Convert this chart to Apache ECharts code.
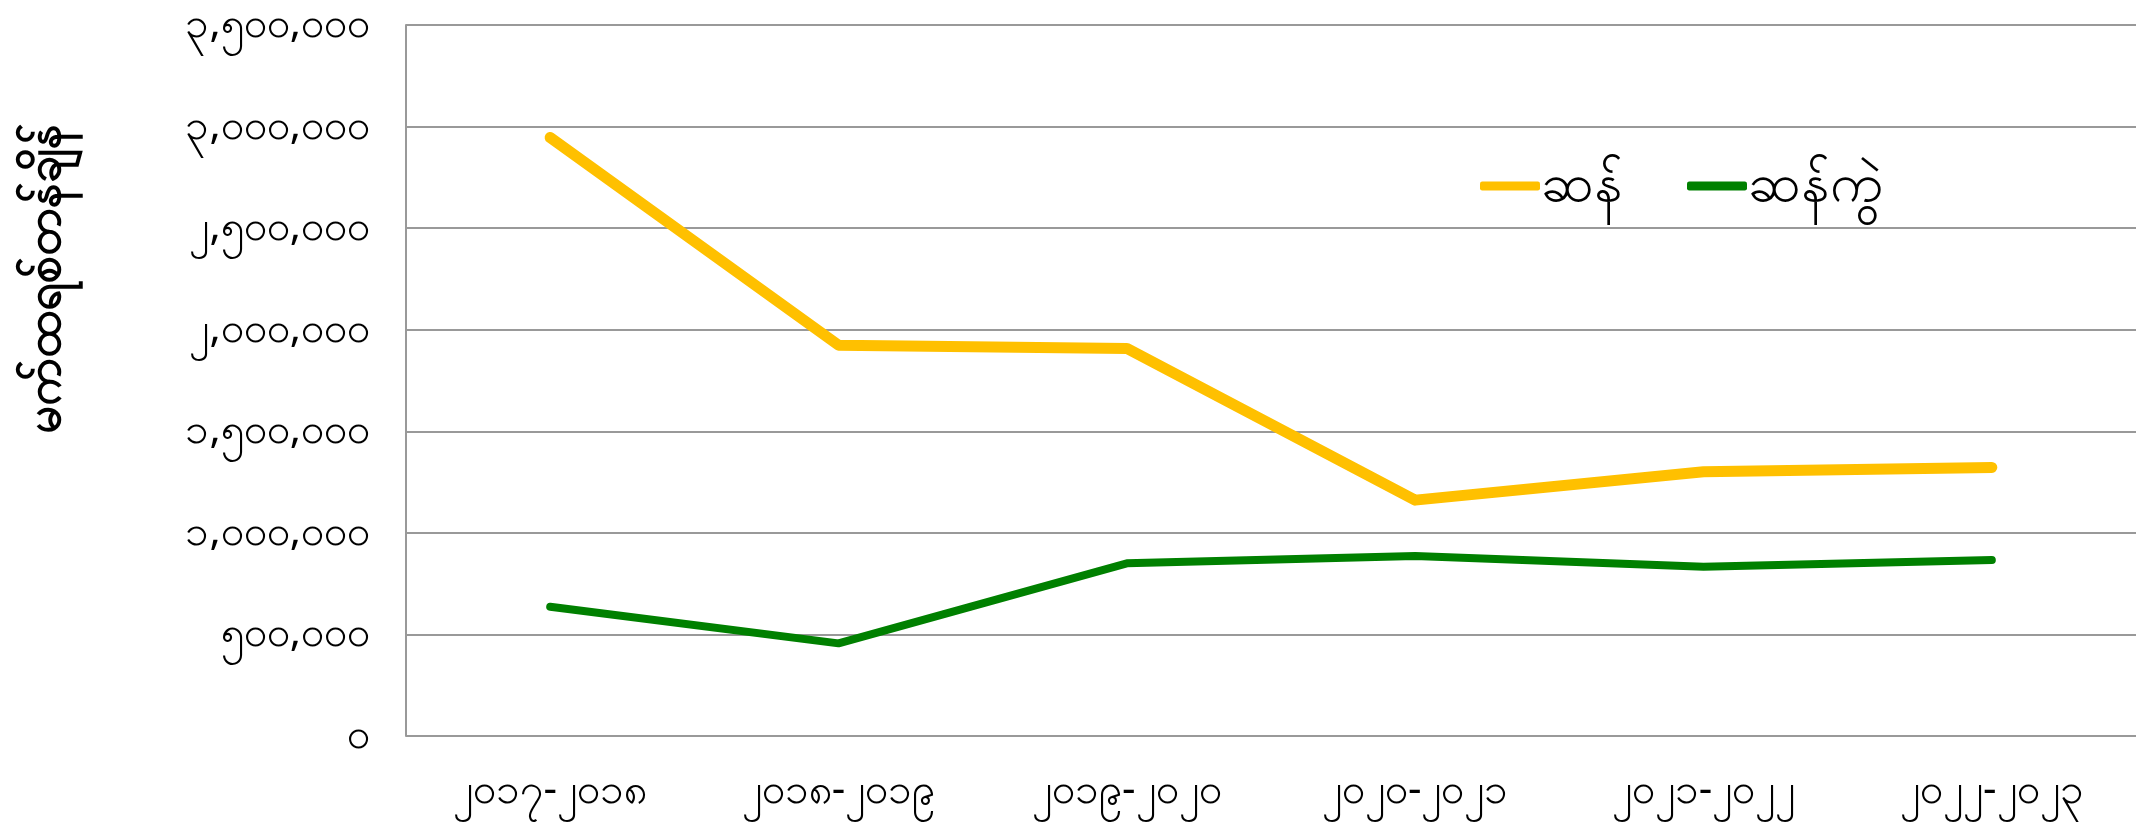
<!DOCTYPE html>
<html>
<head>
<meta charset="utf-8">
<script src="https://cdn.jsdelivr.net/npm/echarts@6/dist/echarts.min.js"></script>
<style>
  html, body { margin: 0; padding: 0; background: #fff; }
  #chart { width: 2136px; height: 827px; }
</style>
</head>
<body>
<div id="chart"></div>
<script>
// ခုနှစ်များ (x axis)
var years = ['၂၀၁၇-၂၀၁၈', '၂၀၁၈-၂၀၁၉', '၂၀၁၉-၂၀၂၀', '၂၀၂၀-၂၀၂၁', '၂၀၂၁-၂၀၂၂', '၂၀၂၂-၂၀၂၃'];
var seriesNames = ['ဆန်', 'ဆန်ကွဲ'];
// ဆန် (rice)
var rice = [2946000, 1924000, 1908000, 1161000, 1301000, 1322000];
// ဆန်ကွဲ (broken rice)
var brokenRice = [636000, 456000, 850000, 886000, 833000, 866000];
// y tick labels, 0 .. 3,500,000 step 500,000
var yTickLabels = ['၀', '၅၀၀,၀၀၀', '၁,၀၀၀,၀၀၀', '၁,၅၀၀,၀၀၀', '၂,၀၀၀,၀၀၀', '၂,၅၀၀,၀၀၀', '၃,၀၀၀,၀၀၀', '၃,၅၀၀,၀၀၀'];
var yTitle = 'မက်ထရစ်တန်ချိန်';

var font = "'Noto Sans', 'DejaVu Sans', sans-serif";
var chart = echarts.init(document.getElementById('chart'));

var option = {
  animation: false,
  textStyle: { fontFamily: font },
  grid: { left: 406, right: 0, top: 25, bottom: 91 },
  legend: {
    data: seriesNames,
    left: 1475,
    top: 151,
    icon: 'roundRect',
    itemWidth: 60,
    itemHeight: 9,
    itemGap: 64,
    textStyle: { fontSize: 54, lineHeight: 60, color: '#000', padding: [0, 0, 0, -4] }
  },
  xAxis: {
    type: 'category',
    data: years,
    boundaryGap: true,
    axisLine: { show: false },
    axisTick: { show: false },
    axisLabel: { fontSize: 42, color: '#000', margin: 34 }
  },
  yAxis: {
    type: 'value',
    min: 0,
    max: 3500000,
    interval: 500000,
    axisLine: { show: true, lineStyle: { color: '#999', width: 2 } },
    axisTick: { show: false },
    splitLine: { lineStyle: { color: '#999', width: 2 } },
    axisLabel: {
      fontSize: 42,
      color: '#000',
      margin: 36,
      formatter: function (v) { return yTickLabels[Math.round(v / 500000)]; }
    }
  },
  graphic: [{
    type: 'text',
    x: 46,
    y: 279,
    rotation: Math.PI / 2,
    style: {
      text: yTitle,
      font: 'bold 48px ' + font,
      fill: '#000',
      align: 'center',
      verticalAlign: 'middle'
    }
  }],
  series: [
    {
      name: seriesNames[0],
      type: 'line',
      data: rice,
      symbol: 'none',
      itemStyle: { color: '#FFC000' },
      lineStyle: { color: '#FFC000', width: 11, cap: 'round', join: 'round' }
    },
    {
      name: seriesNames[1],
      type: 'line',
      data: brokenRice,
      symbol: 'none',
      itemStyle: { color: '#008000' },
      lineStyle: { color: '#008000', width: 8, cap: 'round', join: 'round' }
    }
  ]
};
chart.setOption(option);
</script>
</body>
</html>
